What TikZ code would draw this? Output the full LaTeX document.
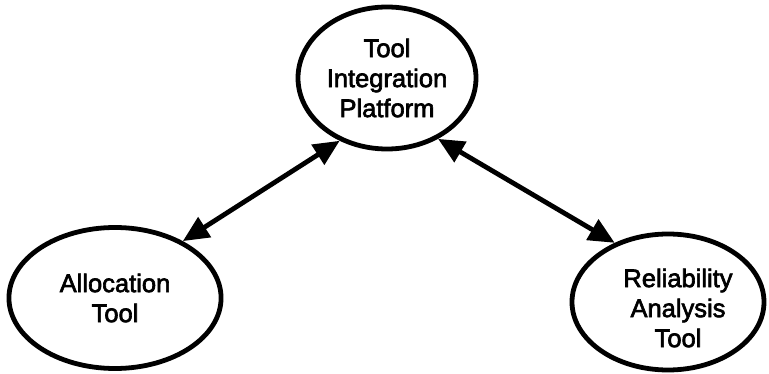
\documentclass[tikz,border=0pt]{standalone}
\usepackage{fontspec}
\newfontfamily\toolfont[FakeBold=2.5]{Liberation Sans}
\usetikzlibrary{shapes.geometric,arrows.meta}

\tikzset{
  toolnode/.style={ellipse, draw=black, line width=4.8pt, align=center,
    inner sep=0pt},
  tooltext/.style={align=center, inner sep=0pt,
    font=\toolfont\fontsize{25.5}{30}\selectfont},
  link/.style={line width=4.8pt,
    {Triangle[length=26pt,width=23pt]}-{Triangle[length=26pt,width=23pt]}}
}

\begin{document}
\begin{tikzpicture}[x=1pt,y=-1pt]
  \useasboundingbox (0,0) rectangle (769,374);

  % the three tools
  \node[toolnode, tooltext, minimum width=178pt, minimum height=142pt] (T) at (387,78)
    {Tool\\Integration\\Platform};
  \node[toolnode, tooltext, minimum width=195pt, minimum height=141pt] (L) at (115,298)
    {\raisebox{-8pt}{\parbox{150pt}{\centering Allocation\\Tool}}};
  \node[toolnode, minimum width=192pt, minimum height=136pt] (R) at (668,302) {};
  \node[tooltext] (Rtext) at (678,308) {Reliability\\Analysis\\Tool};

  % two-way links to the platform
  \draw[link] (L.40) -- (T.-127);
  \draw[link] (T.-50) -- (R.132);
\end{tikzpicture}
\end{document}
